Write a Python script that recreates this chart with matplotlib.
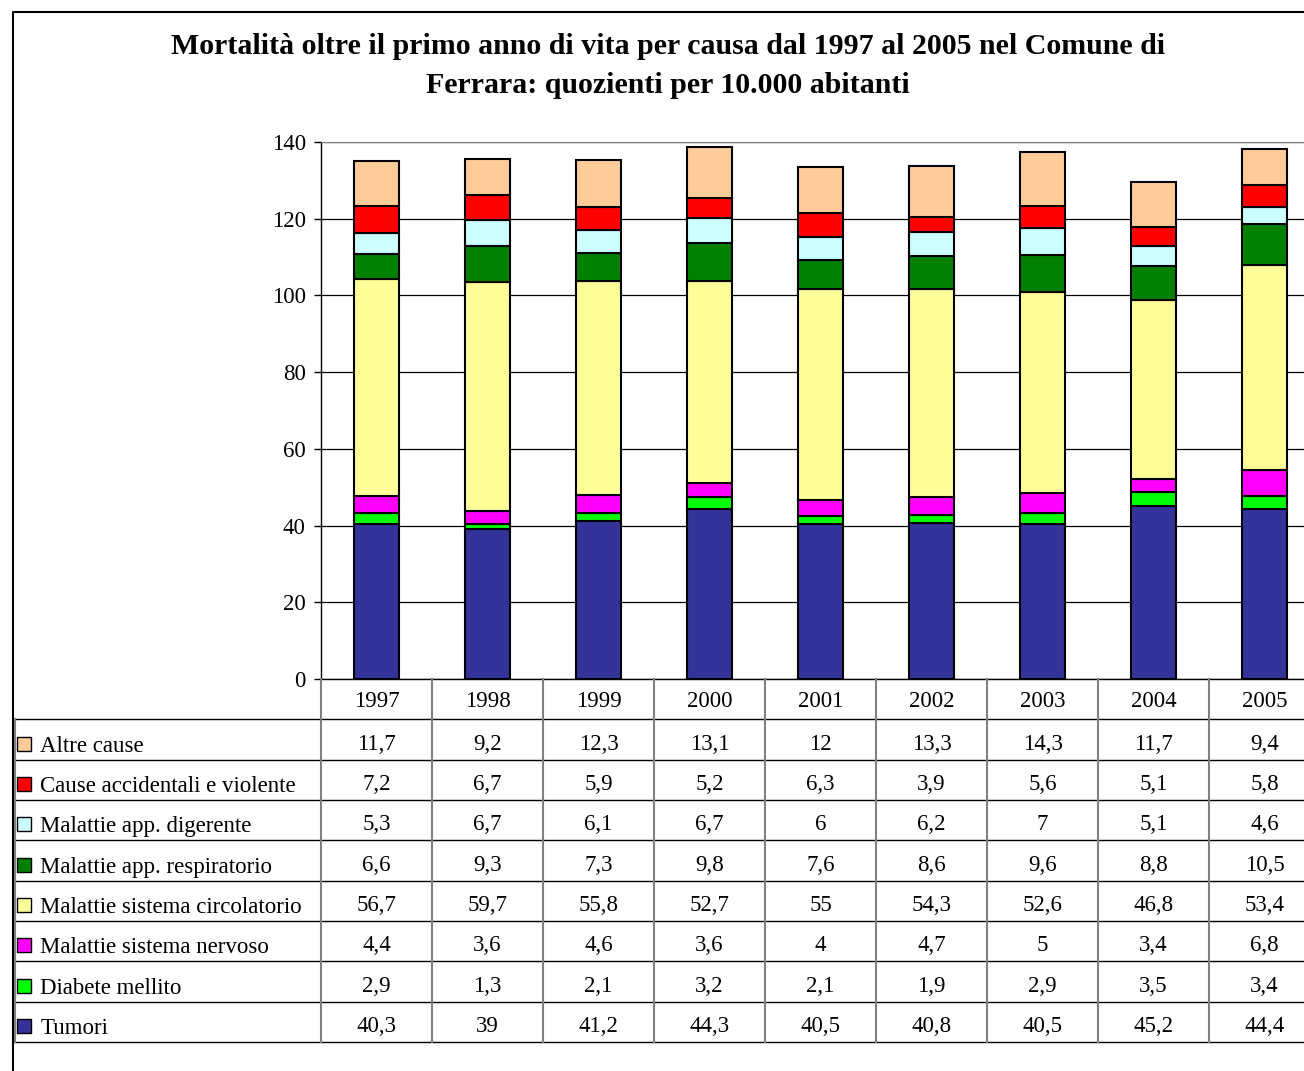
import numpy as np
import matplotlib.pyplot as plt
from matplotlib.lines import Line2D

plt.rcParams['font.family'] = ['Liberation Serif', 'DejaVu Serif']

anni = ['1997', '1998', '1999', '2000', '2001', '2002', '2003', '2004', '2005']

# serie dal basso verso l'alto della pila
tumori       = [40.3, 39, 41.2, 44.3, 40.5, 40.8, 40.5, 45.2, 44.4]
diabete      = [2.9, 1.3, 2.1, 3.2, 2.1, 1.9, 2.9, 3.5, 3.4]
nervoso      = [4.4, 3.6, 4.6, 3.6, 4, 4.7, 5, 3.4, 6.8]
circolatorio = [56.7, 59.7, 55.8, 52.7, 55, 54.3, 52.6, 46.8, 53.4]
respiratorio = [6.6, 9.3, 7.3, 9.8, 7.6, 8.6, 9.6, 8.8, 10.5]
digerente    = [5.3, 6.7, 6.1, 6.7, 6, 6.2, 7, 5.1, 4.6]
accidentali  = [7.2, 6.7, 5.9, 5.2, 6.3, 3.9, 5.6, 5.1, 5.8]
altre        = [11.7, 9.2, 12.3, 13.1, 12, 13.3, 14.3, 11.7, 9.4]

serie = [
    ('Tumori', tumori, '#333399'),
    ('Diabete mellito', diabete, '#00FF00'),
    ('Malattie sistema nervoso', nervoso, '#FF00FF'),
    ('Malattie sistema circolatorio', circolatorio, '#FFFF99'),
    ('Malattie app. respiratorio', respiratorio, '#008000'),
    ('Malattie app. digerente', digerente, '#CCFFFF'),
    ('Cause accidentali e violente', accidentali, '#FF0000'),
    ('Altre cause', altre, '#FFCC99'),
]

titolo = ('Mortalità oltre il primo anno di vita per causa dal 1997 al 2005 nel Comune di\n'
          'Ferrara: quozienti per 10.000 abitanti')

W, H = 1304, 1071
def fx(px): return px / W
def fy(py): return 1 - py / H

fs = 16.5
fig = plt.figure(figsize=(W / 100, H / 100), dpi=100)

# grafico a barre
col = 111  # larghezza colonna in pixel
ax = fig.add_axes([fx(321), fy(679), 9 * col / W, (679 - 142) / H])
x = np.arange(len(anni))
base = np.zeros(len(anni))
for nome, val, colore in serie:
    ax.bar(x, val, width=0.41, bottom=base, color=colore, edgecolor='black', linewidth=1.5, zorder=3)
    base += np.array(val)
ax.set_xlim(-0.5, 8.5)
ax.set_ylim(0, 140)
ax.set_yticks(range(0, 141, 20))
ax.set_xticks([])
ax.yaxis.grid(True, color='black', linewidth=0.9)
ax.set_axisbelow(True)
ax.tick_params(axis='y', length=5, pad=6, labelsize=fs, width=1)
ax.spines['right'].set_visible(False)
ax.spines['top'].set_color('gray')
ax.spines['left'].set_linewidth(1)
ax.spines['bottom'].set_linewidth(1)

# tabella dati
tax = fig.add_axes([fx(13), fy(1042), (321 + 9 * col - 13) / W, (1042 - 679) / H])
left = -0.5 - (321 - 13) / col
tax.set_xlim(left, 8.5)
tax.set_ylim(9, 0)
tax.axis('off')
for r in range(1, 10):
    tax.plot([left, 8.5], [r, r], color='black', lw=1, clip_on=False)
for k in range(10):
    tax.plot([-0.5 + k, -0.5 + k], [0, 9], color='#808080', lw=1.5, clip_on=False)
tax.plot([left + 0.02, left + 0.02], [1, 9], color='#808080', lw=1.5, clip_on=False)
for i, a in enumerate(anni):
    tax.text(i, 0.5, a, ha='center', va='center_baseline', fontsize=fs)
for r, (nome, val, colore) in enumerate(serie[::-1], start=1):
    tax.scatter([left + 0.1], [r + 0.6], marker='s', s=90, color=colore,
                edgecolor='black', linewidth=1, clip_on=False, zorder=4)
    tax.text(left + 0.245, r + 0.6, nome, ha='left', va='center_baseline', fontsize=fs)
    for i, v in enumerate(val):
        tax.text(i, r + 0.55, f'{v:g}'.replace('.', ','), ha='center', va='center_baseline', fontsize=fs)

# cornice esterna
fig.add_artist(Line2D([fx(13), fx(13), 1.01], [-0.01, fy(12), fy(12)],
                      transform=fig.transFigure, color='black', lw=1.5))

fig.text(fx(668), fy(66), titolo, ha='center', va='center', fontsize=21.5,
         fontweight='bold', linespacing=1.55)

fig.savefig('out.png', dpi=100)
